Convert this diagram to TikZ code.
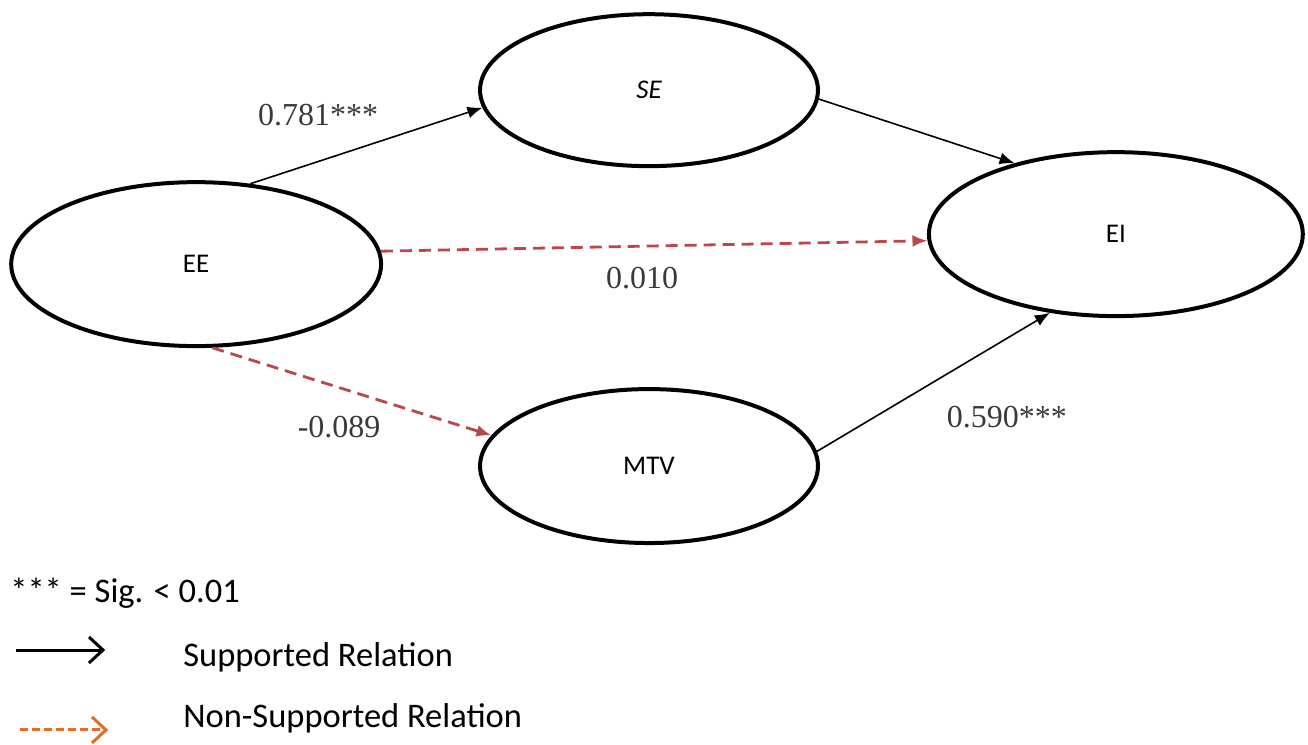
\documentclass[tikz,border=0pt]{standalone}
\usepackage{fontspec}
\setmainfont{Liberation Serif}
\newfontfamily\labelsans{Carlito}
\usetikzlibrary{shapes.geometric,arrows.meta}
\definecolor{nsred}{RGB}{184,72,76}
\definecolor{nsorange}{RGB}{228,108,36}
\definecolor{coefgray}{RGB}{58,58,58}
\tikzset{
  construct/.style={draw=black, line width=4pt, ellipse, inner sep=0pt,
    font=\labelsans\fontsize{27}{32}\selectfont},
  supported/.style={draw=black, line width=1.6pt, -{Latex[length=15pt,width=12pt]}},
  nonsupported/.style={draw=nsred, line width=2.8pt, dash pattern=on 12pt off 7pt,
    -{Latex[length=15pt,width=12pt]}},
  coef/.style={text=coefgray, inner sep=0pt, font=\fontsize{32}{36}\selectfont},
  legendtext/.style={anchor=west, inner sep=0pt, font=\labelsans\fontsize{34.5}{40}\selectfont},
}
\begin{document}
\begin{tikzpicture}[x=1pt,y=-1pt]
\filldraw[color=white] (0,0) rectangle (1308,741);
% Drawing constructs
\node[construct, minimum width=370, minimum height=164] (ee)  at (196,264) {EE};
\node[construct, minimum width=338, minimum height=152] (se)  at (649,90)  {\itshape SE};
\node[construct, minimum width=374, minimum height=164] (ei)  at (1116,234) {EI};
\node[construct, minimum width=338, minimum height=154] (mtv) at (649,466) {MTV};
% Done with constructs; drawing paths
\draw[supported] (ee.56) -- (se.186);
\draw[supported] (se.-3) -- (ei.145);
\draw[nonsupported] (ee.4) -- (ei.182);
\draw[nonsupported] (ee.-79) -- (mtv.169);
\draw[supported] (mtv.5) -- (ei.-130);
% Path coefficients
\node[coef] (c781) at (318,115) {0.781***};
\node[coef] (c010) at (642,278) {0.010};
\node[coef] (c089) at (339,427) {-0.089};
\node[coef] (c590) at (1007,417) {0.590***};
% Done with paths; drawing legend
\node[legendtext] (sig) at (10,593) {*** = Sig. < 0.01};
\node[legendtext] (sup) at (183,657) {Supported Relation};
\node[legendtext] (nonsup) at (183,718) {Non-Supported Relation};
\coordinate (supa) at (16,650);
\coordinate (supb) at (105,650);
\coordinate (nsa) at (20,730);
\coordinate (nsb) at (108,730);
\draw[line width=3pt, -{Straight Barb[length=14pt,width=26pt]}] (supa) -- (supb);
\draw[nsorange, line width=3pt, dash pattern=on 8pt off 4pt,
  -{Straight Barb[length=14pt,width=26pt]}] (nsa) -- (nsb);
% Done with legend
\end{tikzpicture}
\end{document}
